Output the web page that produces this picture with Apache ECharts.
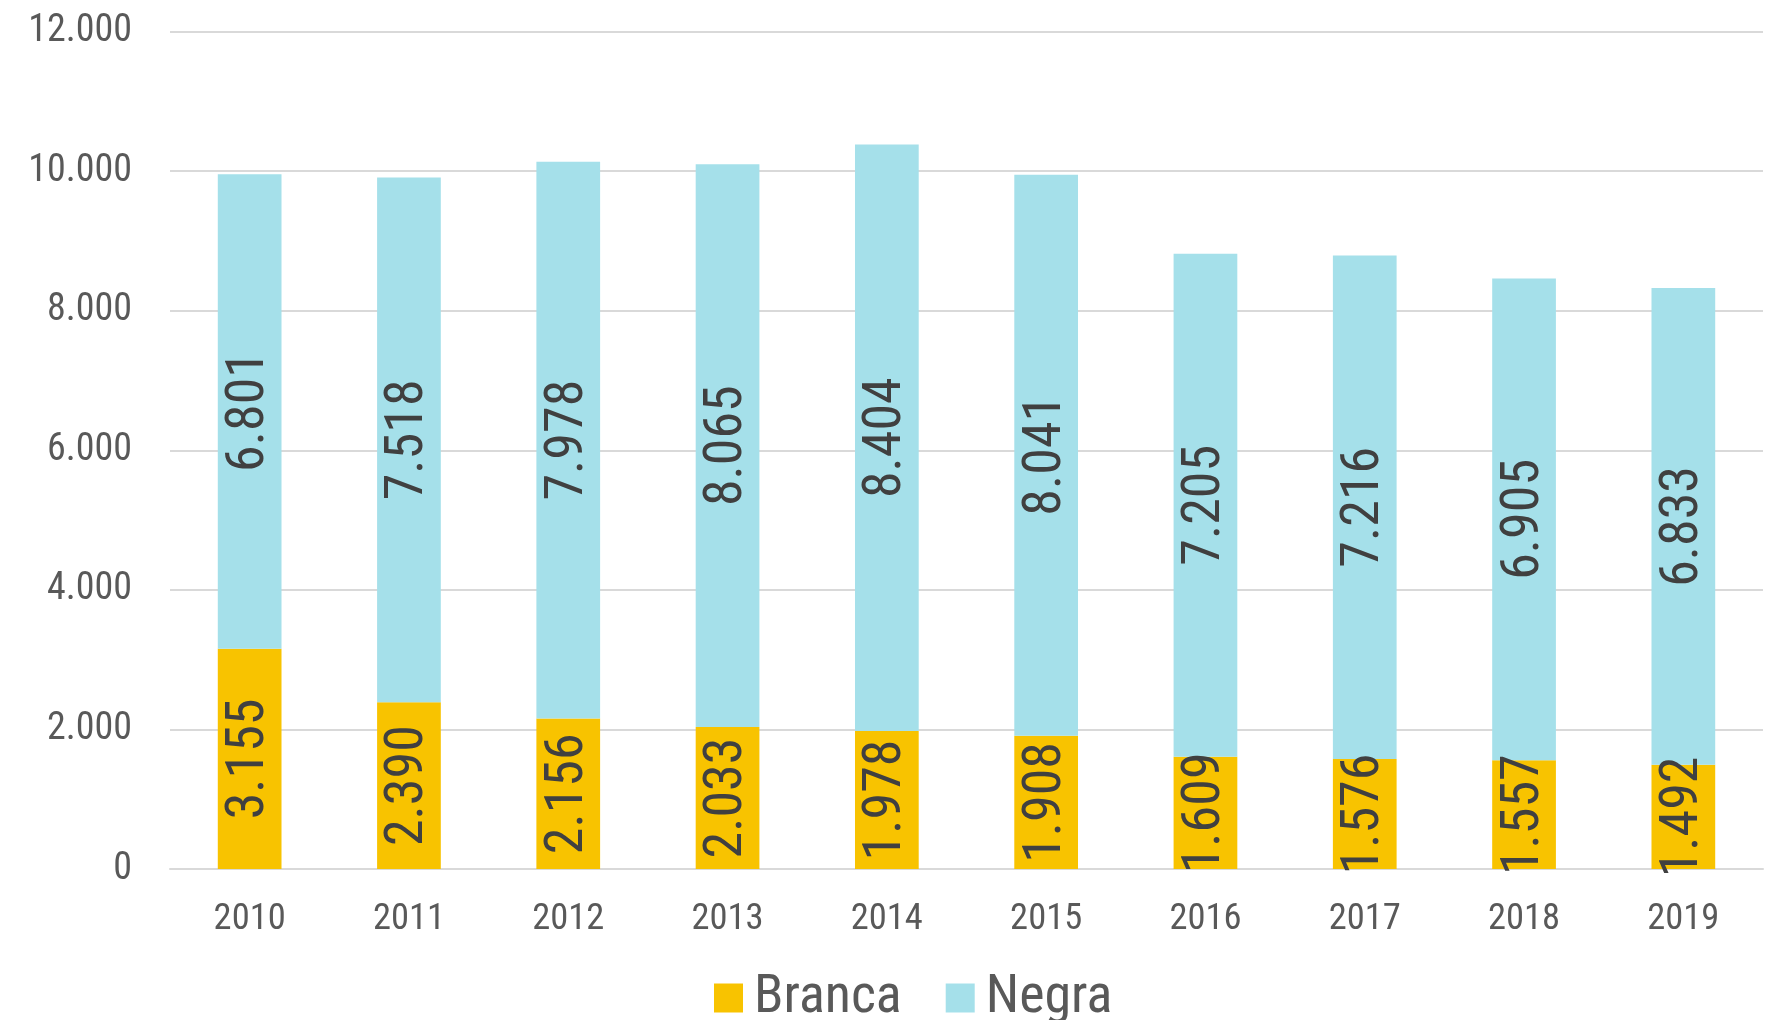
<!DOCTYPE html>
<html>
<head>
<meta charset="utf-8" />
<title>Branca / Negra</title>
<script type="text/javascript" src="https://cdn.jsdelivr.net/npm/echarts@6/dist/echarts.min.js"></script>
<style>
  html, body { margin: 0; padding: 0; background: #fff; }
  #main { width: 1783px; height: 1020px; }
</style>
</head>
<body>
<div id="main"></div>
<script>
// dados
var anos = ['2010', '2011', '2012', '2013', '2014', '2015', '2016', '2017', '2018', '2019'];
var branca = [3155, 2390, 2156, 2033, 1978, 1908, 1609, 1576, 1557, 1492];
var negra = [6801, 7518, 7978, 8065, 8404, 8041, 7205, 7216, 6905, 6833];

var fonte = "'Roboto Condensed', 'Liberation Sans Narrow', Roboto, sans-serif";

// formato com ponto de milhar
function fmt(v) {
    return String(v).replace(/\B(?=(\d{3})+(?!\d))/g, '.');
}

var chart = echarts.init(document.getElementById('main'));

var rotulo = {
    show: true,
    rotate: 90,
    position: 'inside',
    color: '#404040',
    fontFamily: fonte,
    fontSize: 54,
    formatter: function (p) { return fmt(p.value); }
};

chart.setOption({
    animation: false,
    backgroundColor: '#ffffff',
    grid: { left: 170, right: 20, top: 31.5, bottom: 151 },
    legend: {
        top: 966,
        left: 709,
        itemWidth: 29,
        itemHeight: 29,
        itemGap: 44,
        icon: 'rect',
        textStyle: { color: '#595959', fontSize: 54, fontFamily: fonte, padding: [0, 0, 0, 6] },
        data: ['Branca', 'Negra']
    },
    xAxis: {
        type: 'category',
        data: anos,
        axisTick: { show: false },
        axisLine: { lineStyle: { color: '#d9d9d9', width: 2 } },
        axisLabel: { color: '#595959', fontSize: 36.5, fontFamily: fonte, margin: 32 }
    },
    yAxis: {
        type: 'value',
        min: 0,
        max: 12000,
        interval: 2000,
        axisLine: { show: false },
        axisTick: { show: false },
        splitLine: { lineStyle: { color: '#d9d9d9', width: 2 } },
        axisLabel: { color: '#595959', fontSize: 38, fontFamily: fonte, margin: 38, formatter: fmt }
    },
    series: [
        {
            name: 'Branca',
            type: 'bar',
            stack: 'total',
            barWidth: '40%',
            itemStyle: { color: '#f8c300' },
            label: rotulo,
            data: branca
        },
        {
            name: 'Negra',
            type: 'bar',
            stack: 'total',
            barWidth: '40%',
            itemStyle: { color: '#a5e0ea' },
            label: rotulo,
            data: negra
        }
    ]
});
</script>
</body>
</html>
